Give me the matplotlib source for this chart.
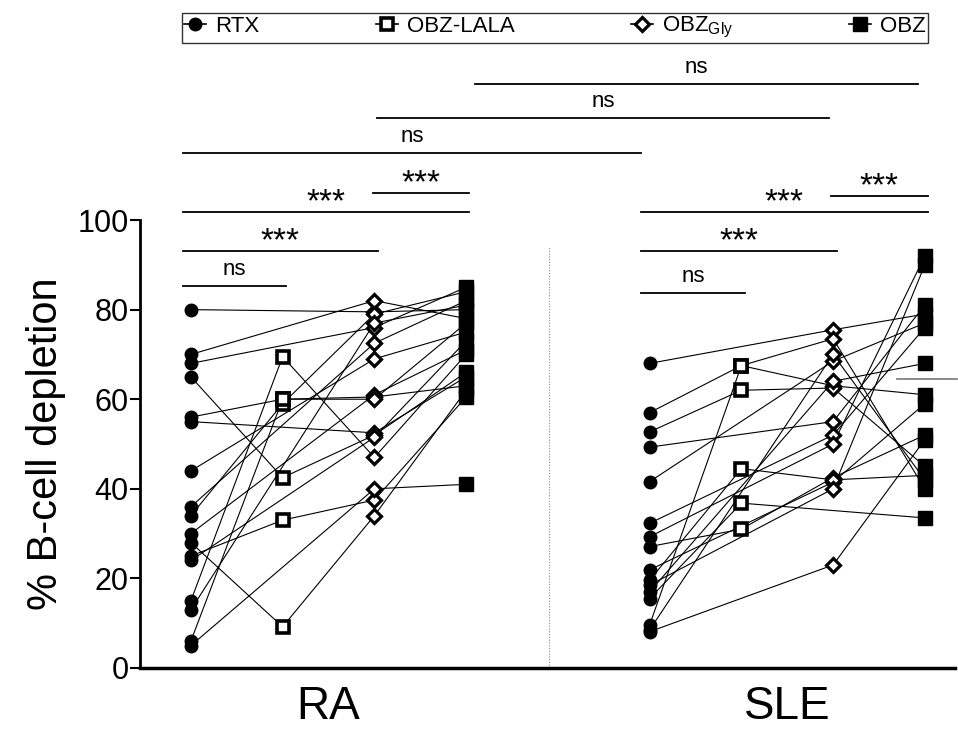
import matplotlib.pyplot as plt
import numpy as np
from matplotlib.lines import Line2D

plt.rcParams['font.family'] = ['Liberation Sans', 'DejaVu Sans']
plt.rcParams['mathtext.fontset'] = 'custom'
plt.rcParams['mathtext.rm'] = 'Liberation Sans'

treatments = ['RTX', 'OBZ-LALA', 'OBZ$_{\\mathrm{Gly}}$', 'OBZ']
groups = ['RA', 'SLE']

# one row per donor: RTX, OBZ-LALA, OBZ-Gly, OBZ  (nan = not tested)
nan = np.nan
ra_rtx = [80, 70, 68, 65, 56, 55, 44, 36, 34, 30, 28, 25, 24, 15, 13, 6, 5]
ra_lala = [nan, nan, nan, 42.5, 60, nan, nan, nan, 59, nan, 9.2, 33, nan, 69.5, nan, 60, nan]
ra_gly = [79.5, 82, 76, 52, 60.5, 52.5, 69, 72.5, 79, 61, 34, 37.5, 51.5, 47, 77, 60, 40]
ra_obz = [80, 78, 85, 66, 63, 65, 75, 82, 84, 71, 62, 60.5, 73, 70, 81, 77, 41]

sle_rtx = [68, 57, 52.7, 49.3, 41.6, 32.3, 29.3, 27.1, 21.9, 19.6, 18.5, 17, 15.5, 9.6, 8.5, 8.1]
sle_lala = [nan, 67.5, 62, nan, nan, nan, nan, 31, nan, 44.5, nan, nan, 36.8, 67.5, nan, nan]
sle_gly = [75.5, 63, 62.5, 55, 68.5, 52, 50, 42.5, 41.5, 42, 40, 64, nan, 73.5, 70, 23]
sle_obz = [79, 61, 45, 81, 77, 76, 92, 52, 59, 43, 90, 68, 33.5, 40, 42, 51]

# significance brackets: (group a, treatment a, group b, treatment b, label)
brackets = [
    (0, 0, 0, 1, 'ns'), (0, 0, 0, 2, '***'), (0, 0, 0, 3, '***'), (0, 2, 0, 3, '***'),
    (1, 0, 1, 1, 'ns'), (1, 0, 1, 2, '***'), (1, 0, 1, 3, '***'), (1, 2, 1, 3, '***'),
    (0, 0, 1, 0, 'ns'), (0, 2, 1, 2, 'ns'), (0, 3, 1, 3, 'ns'),
]
bracket_y = [85.3, 93.1, 101.8, 106.0, 83.7, 93.1, 101.8, 105.4, 115.0, 122.8, 130.4]

markers = [dict(marker='o', mfc='black', mec='black', ms=9),
           dict(marker='s', mfc='white', mec='black', ms=9, mew=2.6),
           dict(marker='D', mfc='white', mec='black', ms=7.5, mew=2.3),
           dict(marker='s', mfc='black', mec='black', ms=9.5)]

fig = plt.figure(figsize=(9.58, 7.31), dpi=100)
ax = fig.add_axes([0.146, 0.0862, 0.851, 0.6128])

data = [np.array([ra_rtx, ra_lala, ra_gly, ra_obz]).T,
        np.array([sle_rtx, sle_lala, sle_gly, sle_obz]).T]
for g, rows in enumerate(data):
    xs = np.arange(4) + 5 * g
    for row in rows:
        ok = ~np.isnan(row)
        ax.plot(xs[ok], row[ok], color='black', lw=0.8, zorder=2)
    for t in range(4):
        col = rows[:, t]
        col = col[~np.isnan(col)]
        ax.plot(np.full(len(col), xs[t]), col, ls='none', zorder=3, **markers[t])

# median mark visible on SLE OBZ
ax.plot([7.7, 8.35], [64.5, 64.5], color='#777777', lw=1.2, zorder=1, clip_on=False)

ax.axvline(3.9, color='#888888', lw=0.8, ls=(0, (1, 1.5)), ymax=0.94)

for (ga, ta, gb, tb, lab), y in zip(brackets, bracket_y):
    x1 = ta + 5 * ga - (0.09 if ta == 0 else 0.02)
    x2 = tb + 5 * gb + (0.04 if tb < 3 else 0.03)
    if ga != gb and ta == 3:
        x1 += 0.12
        x2 -= 0.11
    if ga != gb and ta == 0:
        x2 -= 0.13
    if ga != gb and ta == 2:
        x1 += 0.05
        x2 -= 0.09
    ax.plot([x1, x2], [y, y], color='black', lw=1.3, clip_on=False)
    if lab == 'ns':
        ax.text((x1 + x2) / 2, y + 3.6, lab, ha='center', va='center', fontsize=16)
    else:
        ax.text((x1 + x2) / 2, y + 2.1, lab, ha='center', va='center', fontsize=24)

ax.set_xlim(-0.556, 8.33)
ax.set_ylim(0, 100)
ax.set_yticks([0, 20, 40, 60, 80, 100])
ax.tick_params(axis='y', labelsize=22, width=1.5, length=7, pad=1)
ax.set_xticks([1.5, 6.5])
ax.set_xticklabels(groups, fontsize=33)
ax.tick_params(axis='x', length=0, pad=12)
ax.set_ylabel('% B-cell depletion', fontsize=30, labelpad=8)
for s in ['top', 'right']:
    ax.spines[s].set_visible(False)
ax.spines['left'].set_linewidth(2)
ax.spines['bottom'].set_linewidth(2.5)

handles = [Line2D([0], [0], color='black', lw=1.2, **markers[t]) for t in range(4)]
fig.legend(handles, treatments, loc='upper left', bbox_to_anchor=(0.19, 0.942, 0.779, 0.04),
           mode='expand', ncol=4, fontsize=16, frameon=True, fancybox=False,
           edgecolor='black', handlelength=1.0, handletextpad=0.4, borderpad=0.1,
           borderaxespad=0)

fig.savefig('out.png', dpi=100)
